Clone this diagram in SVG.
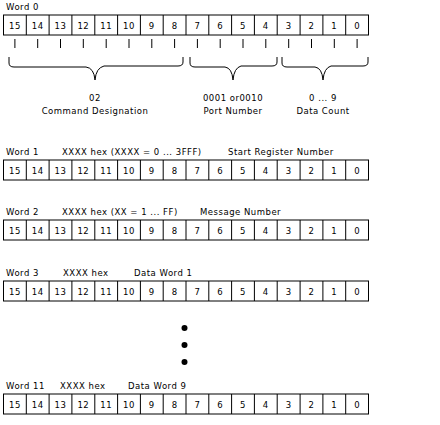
<svg xmlns="http://www.w3.org/2000/svg" xmlns:xlink="http://www.w3.org/1999/xlink" width="440" height="425" viewBox="0 0 440 425">
<style>
text{font-family:"DejaVu Sans","Liberation Sans",Arial,sans-serif;font-size:8.5px;letter-spacing:0.5px;fill:#000}
.c{text-anchor:middle}
.n{letter-spacing:0}
.ln{stroke:#000;stroke-width:1;fill:none}
</style>
<defs>
<g id="row">
<rect x="3.5" y="0.5" width="365" height="20" class="ln"/>
<path class="ln" d="M26.3,0.5V20.5M49.1,0.5V20.5M71.9,0.5V20.5M94.8,0.5V20.5M117.6,0.5V20.5M140.4,0.5V20.5M163.2,0.5V20.5M186,0.5V20.5M208.8,0.5V20.5M231.6,0.5V20.5M254.4,0.5V20.5M277.2,0.5V20.5M300.1,0.5V20.5M322.9,0.5V20.5M345.7,0.5V20.5"/>
<g class="c n">
<text x="14.9" y="14">15</text><text x="37.7" y="14">14</text><text x="60.5" y="14">13</text><text x="83.3" y="14">12</text>
<text x="106.2" y="14">11</text><text x="129" y="14">10</text><text x="151.8" y="14">9</text><text x="174.6" y="14">8</text>
<text x="197.4" y="14">7</text><text x="220.2" y="14">6</text><text x="243" y="14">5</text><text x="265.8" y="14">4</text>
<text x="288.7" y="14">3</text><text x="311.5" y="14">2</text><text x="334.3" y="14">1</text><text x="357.1" y="14">0</text>
</g>
</g>
</defs>

<g id="word0">
<text x="6" y="10">Word 0</text>
<use href="#row" xlink:href="#row" transform="translate(0,14.5)"/>
</g>

<g id="connectors">
<path class="ln" d="M14.9,39V48M37.7,39V48M60.5,39V48M83.3,39V48M106.2,39V48M129,39V48M151.8,39V48M174.6,39V48M197.4,39V48M220.2,39V48M243,39V48M265.8,39V48M288.7,39V48M311.5,39V48M334.3,39V48M357.1,39V48"/>
<path class="ln" d="M9,57V63Q9,67 14,67H86Q94,68 95,80Q96,68 104,66H178Q183,66 183,62V57"/>
<path class="ln" d="M190,57V63Q190,67 195,67H225Q232,68 233,80Q234,68 241,66H272Q277,66 277,62V57"/>
<path class="ln" d="M282,57V63Q282,67 287,67H315Q322,68 323,80Q324,68 331,66H363Q368,66 368,62V57"/>
</g>

<g id="field-command">
<text class="c" x="95" y="101">02</text>
<text class="c" x="95" y="114">Command  Designation</text>
</g>
<g id="field-port">
<text class="c" x="233" y="101">0001 or0010</text>
<text class="c" x="233" y="114">Port  Number</text>
</g>
<g id="field-count">
<text class="c" x="323" y="101">0 ... 9</text>
<text class="c" x="323" y="114">Data Count</text>
</g>

<g id="word1">
<text x="6" y="155">Word 1</text>
<text x="62" y="155">XXXX hex (XXXX = 0 ... 3FFF)</text>
<text x="228" y="155">Start Register Number</text>
<use href="#row" xlink:href="#row" transform="translate(0,159.5)"/>
</g>

<g id="word2">
<text x="6" y="215">Word 2</text>
<text x="62" y="215">XXXX hex (XX = 1 ... FF)</text>
<text x="200" y="215">Message Number</text>
<use href="#row" xlink:href="#row" transform="translate(0,219.5)"/>
</g>

<g id="word3">
<text x="6" y="276">Word 3</text>
<text x="63" y="276">XXXX hex</text>
<text x="134" y="276">Data Word 1</text>
<use href="#row" xlink:href="#row" transform="translate(0,280.5)"/>
</g>

<g id="ellipsis">
<circle cx="184.5" cy="328" r="3"/>
<circle cx="184.5" cy="345" r="3"/>
<circle cx="184.5" cy="362" r="3"/>
</g>

<g id="word11">
<text x="6" y="389">Word 11</text>
<text x="60" y="389">XXXX hex</text>
<text x="128" y="389">Data Word 9</text>
<use href="#row" xlink:href="#row" transform="translate(0,393.5)"/>
</g>
</svg>
